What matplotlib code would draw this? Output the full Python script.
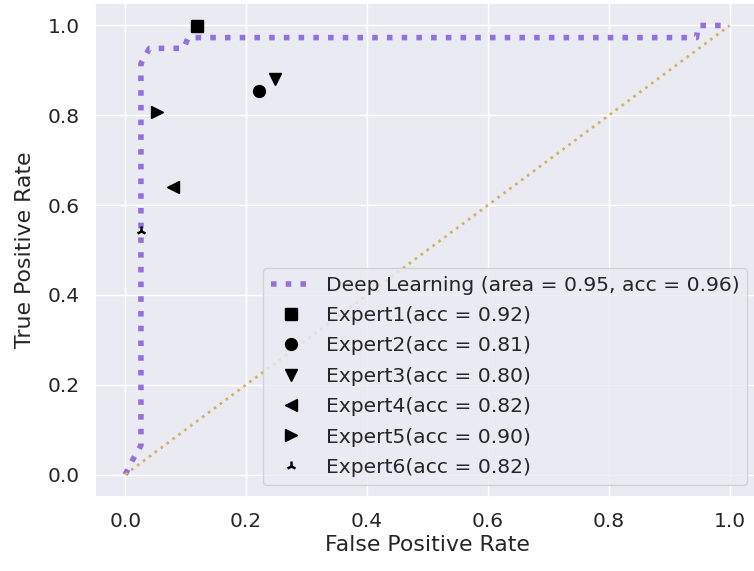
import matplotlib
matplotlib.use("Agg")
import matplotlib.pyplot as plt
import seaborn as sns

sns.set_theme(style="darkgrid")
plt.rcParams['font.family'] = ['DejaVu Sans']

# ROC curve of the model
fpr = [0.0, 0.012, 0.026, 0.026, 0.04, 0.097, 0.104, 0.945, 0.948, 1.0]
tpr = [0.0, 0.032, 0.065, 0.915, 0.949, 0.949, 0.973, 0.973, 1.0, 1.0]
dl_label = "Deep Learning (area = 0.95, acc = 0.96)"

# expert operating points
expert_names = ["Expert1", "Expert2", "Expert3", "Expert4", "Expert5", "Expert6"]
expert_acc = [0.92, 0.81, 0.80, 0.82, 0.90, 0.82]
expert_fpr = [0.118, 0.222, 0.248, 0.079, 0.053, 0.026]
expert_tpr = [0.998, 0.855, 0.880, 0.640, 0.807, 0.543]
markers = ["s", "o", "v", "<", ">", "2"]

fig = plt.figure(figsize=(7.54, 5.71), dpi=100)
ax = fig.add_axes([95 / 754, 74 / 571, 665 / 754, 494 / 571])

ax.plot(fpr, tpr, color="#9370DB", linestyle=":", linewidth=4, label=dl_label)
ax.plot([0, 1], [0, 1], color="#d4b36a", linestyle=":", linewidth=2)

for name, acc, x, y, m in zip(expert_names, expert_acc, expert_fpr, expert_tpr, markers):
    ms = 7 if m == "2" else 8.5
    ax.plot(x, y, marker=m, color="black", linestyle="none", markersize=ms,
            markeredgewidth=1.8 if m == "2" else 1,
            label=f"{name}(acc = {acc:.2f})")

ax.set_xlim(-0.05, 1.05)
ax.set_ylim(-0.05, 1.05)
ax.set_xticks([0, 0.2, 0.4, 0.6, 0.8, 1.0])
ax.set_yticks([0, 0.2, 0.4, 0.6, 0.8, 1.0])
ax.tick_params(labelsize=14.5, pad=5)
ax.set_xlabel("False Positive Rate", fontsize=15.8, labelpad=3)
ax.set_ylabel("True Positive Rate", fontsize=15.8, labelpad=9)
ax.legend(loc="lower right", fontsize=14.6, bbox_to_anchor=(0.99, 0.012),
          borderaxespad=0.3, labelspacing=0.56, handletextpad=0.7)

fig.savefig("out.png", dpi=100)
